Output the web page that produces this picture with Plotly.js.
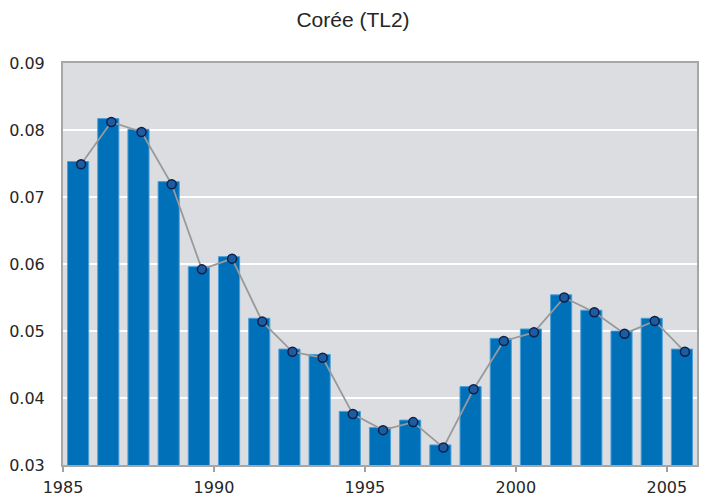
<!DOCTYPE html>
<html>
<head>
<meta charset="utf-8">
<script src="https://cdn.plot.ly/plotly-3.0.1.min.js"></script>
<style>html,body{margin:0;padding:0;background:#fff;}#chart{width:706px;height:499px;}</style>
</head>
<body>
<div id="chart"></div>
<script>
const years = [1985,1986,1987,1988,1989,1990,1991,1992,1993,1994,1995,1996,1997,1998,1999,2000,2001,2002,2003,2004,2005];
const barValues = [0.0753,0.0817,0.0801,0.0723,0.0596,0.0611,0.0519,0.0473,0.0465,0.0380,0.0356,0.0367,0.0330,0.0417,0.0489,0.0503,0.0554,0.0531,0.0500,0.0519,0.0473];
const lineValues = [0.0749,0.0812,0.0797,0.0719,0.0592,0.0608,0.0514,0.0469,0.0460,0.0376,0.0352,0.0364,0.0326,0.0413,0.0485,0.0498,0.0550,0.0528,0.0496,0.0515,0.0469];
const xTickYears = [1985,1990,1995,2000,2005];
const titleText = 'Corée (TL2)';

const barX = years.map(y => y + 0.5);
const lineX = years.map(y => y + 0.6);

const traces = [
  {
    type: 'bar', x: barX, y: barValues, width: 0.7,
    marker: {color: '#0070b8', line: {color: '#4b9fd8', width: 1}},
    hoverinfo: 'x+y'
  },
  {
    type: 'scatter', mode: 'lines+markers', x: lineX, y: lineValues,
    line: {color: '#999999', width: 1.8},
    marker: {symbol: 'circle', size: 9, color: '#1f5c9e', line: {color: '#0b1f4d', width: 1.5}}
  }
];

const layout = {
  width: 706, height: 499,
  margin: {l: 63, r: 9, t: 63, b: 34, pad: 0},
  paper_bgcolor: '#ffffff', plot_bgcolor: '#dcdde0',
  showlegend: false,
  font: {family: 'DejaVu Sans, sans-serif', size: 16, color: '#262626'},
  title: {text: titleText, font: {family: 'Liberation Sans, Arial, sans-serif', size: 21, color: '#262626'}, x: 0.5, xanchor: 'center', y: 0.96, yanchor: 'middle', yref: 'container'},
  xaxis: {
    range: [1985, 2006], tickvals: xTickYears, ticktext: xTickYears.map(String),
    ticks: 'outside', ticklen: 5, tickwidth: 1.5, tickcolor: '#a0a0a0',
    showline: true, linecolor: '#a6a6a6', linewidth: 2, mirror: true,
    showgrid: false, zeroline: false, ticklabelstandoff: 2
  },
  yaxis: {
    range: [0.03, 0.09], dtick: 0.01, tick0: 0.03, tickformat: '.2f',
    ticks: '', showline: true, linecolor: '#a6a6a6', linewidth: 2, mirror: true,
    showgrid: true, gridcolor: '#ffffff', gridwidth: 2, zeroline: false,
    ticklabelstandoff: 13
  },
  bargap: 0.3
};

Plotly.newPlot('chart', traces, layout, {displayModeBar: false, staticPlot: true});
</script>
</body>
</html>
